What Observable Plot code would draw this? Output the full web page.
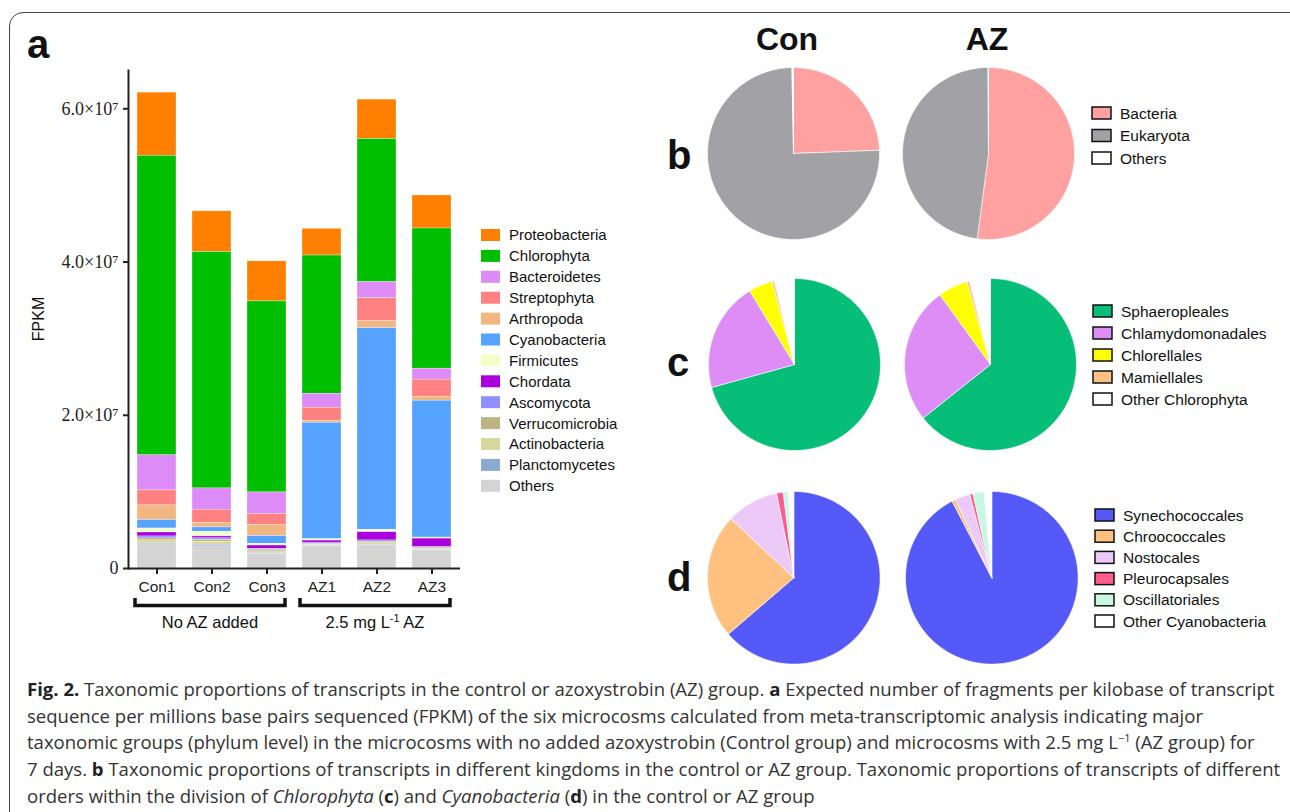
<!DOCTYPE html>
<html><head><meta charset="utf-8">
<script src="https://cdn.jsdelivr.net/npm/d3@7"></script>
<script src="https://cdn.jsdelivr.net/npm/@observablehq/plot@0.6"></script>
<style>
body{margin:0;background:#fff;}
#page{position:relative;width:1290px;height:812px;overflow:hidden;font-family:"Liberation Sans",Arial,sans-serif;color:#111;background:#fff;}
#frame{position:absolute;left:9px;top:12px;width:1320px;height:840px;border:1.5px solid #444;border-radius:14px;box-sizing:border-box;}
.abs{position:absolute;}
#caption{position:absolute;left:27px;top:676px;font-family:"Open Sans",sans-serif;font-size:18.55px;line-height:26.7px;color:#333;white-space:nowrap;}
#caption b{font-weight:700;color:#222;}
</style></head><body><div id="page"><div id="frame"></div></div>
<script>
// ---------- DATA ----------
const samples = ["Con1","Con2","Con3","AZ1","AZ2","AZ3"];
const phyla = ["Proteobacteria","Chlorophyta","Bacteroidetes","Streptophyta","Arthropoda","Cyanobacteria","Firmicutes","Chordata","Ascomycota","Verrucomicrobia","Actinobacteria","Planctomycetes","Others"];
const phylumColors = ["#FF8000","#00BF00","#DD8BF6","#FF8181","#F2B780","#55A3FF","#F4FEC9","#A902DE","#8F8FFE","#BEB482","#D7D89E","#8BAAD2","#D4D4D4"];
// FPKM per sample (Con1, Con2, Con3, AZ1, AZ2, AZ3)
const proteobacteria  = [8.24e6, 5.32e6, 5.23e6, 3.49e6, 5.14e6, 4.31e6];
const chlorophyta     = [39.1e6, 30.85e6, 24.93e6, 18.04e6, 18.69e6, 18.3e6];
const bacteroidetes   = [4.58e6, 2.78e6, 2.83e6, 1.83e6, 2.09e6, 1.44e6];
const streptophyta    = [1.96e6, 1.7e6, 1.4e6, 1.7e6, 3.0e6, 2.22e6];
const arthropoda      = [1.9e6, 0.61e6, 1.48e6, 0.26e6, 0.92e6, 0.52e6];
const cyanobacteria   = [1.11e6, 0.56e6, 1.0e6, 15.2e6, 26.31e6, 17.87e6];
const firmicutes      = [0.52e6, 0.61e6, 0.22e6, 0.18e6, 0.31e6, 0.13e6];
const chordata        = [0.52e6, 0.26e6, 0.43e6, 0.34e6, 1.08e6, 1.12e6];
const ascomycota      = [0.26e6, 0.2e6, 0.15e6, 0.13e6, 0.17e6, 0.07e6];
const verrucomicrobia = [0.26e6, 0.26e6, 0.2e6, 0.1e6, 0.2e6, 0.16e6];
const actinobacteria  = [0.39e6, 0.39e6, 0.2e6, 0.1e6, 0.2e6, 0.13e6];
const planctomycetes  = [0.13e6, 0.2e6, 0.1e6, 0.09e6, 0.09e6, 0.07e6];
const others          = [3.14e6, 2.88e6, 1.92e6, 2.88e6, 3.0e6, 2.35e6];
const yTicks = [0, 2e7, 4e7, 6e7];
const groups = [{label: "No AZ added", members: ["Con1","Con2","Con3"]}, {label: "2.5 mg L", sup: "-1", tail: " AZ", members: ["AZ1","AZ2","AZ3"]}];

const pieTitles = ["Con", "AZ"];
const kingdoms = ["Bacteria","Eukaryota","Others"];
const kingdomColors = ["#FFA1A1","#A2A1A5","#FFFFFF"];
const kingdomCon = [24.4, 75.3, 0.3];
const kingdomAZ  = [52.1, 47.8, 0.1];

const chloroOrders = ["Sphaeropleales","Chlamydomonadales","Chlorellales","Mamiellales","Other Chlorophyta"];
const chloroColors = ["#06BE78","#DE8CF6","#FFFF00","#FFC183","#FFFFFF"];
const chloroCon = [70.7, 20.6, 4.5, 0.45, 3.75];
const chloroAZ  = [64.3, 25.7, 5.6, 0.5, 3.9];

const cyanoOrders = ["Synechococcales","Chroococcales","Nostocales","Pleurocapsales","Oscillatoriales","Other Cyanobacteria"];
const cyanoColors = ["#5559F8","#FFC080","#EDC9F8","#FF5B8D","#C8F7E4","#FFFFFF"];
const cyanoCon = [63.7, 23.3, 9.8, 1.25, 0.85, 1.1];
const cyanoAZ  = [92.4, 0.7, 2.8, 0.6, 2.1, 1.4];

// ---------- BUILD ----------
const page = document.getElementById("page");
const phylumValues = [proteobacteria, chlorophyta, bacteroidetes, streptophyta, arthropoda, cyanobacteria, firmicutes, chordata, ascomycota, verrucomicrobia, actinobacteria, planctomycetes, others];
const rows = samples.flatMap((s, i) => phyla.map((p, j) => ({sample: s, phylum: p, value: phylumValues[j][i]})));

const bar = Plot.plot({
  width: 470, height: 640, marginLeft: 128, marginRight: 10, marginTop: 70, marginBottom: 72,
  style: {background: "transparent", color: "#222", fontFamily: "Liberation Sans, Arial, sans-serif", overflow: "visible"},
  x: {domain: samples, paddingInner: 0.3, paddingOuter: 0.15},
  y: {domain: [0, 6.5e7]},
  color: {domain: phyla, range: phylumColors},
  marks: [
    Plot.barY(rows, {x: "sample", y: "value", fill: "phylum", order: phyla.slice().reverse(), stroke: "white", strokeWidth: 0.5, strokeOpacity: 0.6}),
    Plot.ruleY([0], {stroke: "#222", strokeWidth: 2}),
    Plot.frame({anchor: "left", stroke: "#222", strokeWidth: 2}),
    Plot.axisY({ticks: yTicks, tickFormat: d => d === 0 ? "0" : (d / 1e7).toFixed(1) + "×10⁷", tickSize: 5, tickPadding: 5, strokeWidth: 2, fontSize: 18, fontFamily: "Liberation Serif, DejaVu Serif, serif", label: null}),
    Plot.axisX({tickSize: 6, tickPadding: 6, strokeWidth: 2, fontSize: 15.5, label: null})
  ]
});
bar.classList.add("abs"); bar.style.left = "0px"; bar.style.top = "0px";
page.appendChild(bar);

const svgBar = d3.select(bar);
const xs = bar.scale("x");
const bw = xs.bandwidth;
svgBar.append("text").attr("transform", "translate(44,319) rotate(-90)").attr("text-anchor", "middle")
  .attr("font-size", 16).attr("fill", "#111").text("FPKM");
groups.forEach(g => {
  const a = xs.apply(g.members[0]) - 2, b = xs.apply(g.members[g.members.length - 1]) + bw - 1;
  svgBar.append("path").attr("d", `M${a},598 V605.5 H${b} V598`).attr("fill", "none").attr("stroke", "#111").attr("stroke-width", 3.5);
  const t = svgBar.append("text").attr("x", (a + b) / 2).attr("y", 628).attr("text-anchor", "middle").attr("font-size", 16.5).attr("fill", "#111");
  t.append("tspan").text(g.label);
  if (g.sup) {
    t.append("tspan").attr("dy", -6).attr("font-size", 11).text(g.sup);
    t.append("tspan").attr("dy", 6).text(g.tail);
  }
});

function pie(names, colors, values, cx, cy, r) {
  const arcs = d3.pie().sort(null).value(d => d)(values);
  const pts = [];
  arcs.forEach((a, i) => {
    const n = Math.max(2, Math.ceil((a.endAngle - a.startAngle) / (Math.PI / 180)));
    pts.push({k: names[i], x: 0, y: 0});
    for (let j = 0; j <= n; j++) {
      const t = a.startAngle + (a.endAngle - a.startAngle) * j / n;
      pts.push({k: names[i], x: Math.sin(t), y: Math.cos(t)});
    }
    pts.push({k: names[i], x: 0, y: 0});
  });
  const p = Plot.plot({
    width: 2 * r + 2, height: 2 * r + 2, margin: 1,
    x: {domain: [-1, 1], axis: null}, y: {domain: [-1, 1], axis: null},
    color: {domain: names, range: colors},
    style: {background: "transparent", overflow: "visible"},
    marks: [Plot.line(pts, {x: "x", y: "y", z: "k", fill: "k", stroke: "white", strokeWidth: 0.6, curve: "linear"})]
  });
  p.classList.add("abs"); p.style.left = (cx - r - 1) + "px"; p.style.top = (cy - r - 1) + "px";
  page.appendChild(p);
}
pie(kingdoms, kingdomColors, kingdomCon, 793, 152.5, 86);
pie(kingdoms, kingdomColors, kingdomAZ, 988.3, 152.5, 86);
pie(chloroOrders, chloroColors, chloroCon, 794, 363.5, 86);
pie(chloroOrders, chloroColors, chloroAZ, 989.5, 363.5, 86);
pie(cyanoOrders, cyanoColors, cyanoCon, 793.5, 577.3, 86.3);
pie(cyanoOrders, cyanoColors, cyanoAZ, 991, 577, 86.3);

// overlay for texts and legends
const ov = d3.select(page).append("svg").attr("class", "abs").attr("width", 1290).attr("height", 812)
  .style("left", "0px").style("top", "0px").attr("font-family", "Liberation Sans, Arial, sans-serif");
[["a", 27, 58], ["b", 667, 169], ["c", 667, 376], ["d", 667, 591]].forEach(([t, x, y]) =>
  ov.append("text").attr("x", x).attr("y", y).attr("font-size", 40).attr("font-weight", "bold").attr("fill", "#111").text(t));
[[pieTitles[0], 787], [pieTitles[1], 987]].forEach(([t, x]) =>
  ov.append("text").attr("x", x).attr("y", 50).attr("text-anchor", "middle").attr("font-size", 32).attr("font-weight", "bold").attr("fill", "#111").text(t));

function legend(names, colors, sx, tx, y0, dy, bordered, fs) {
  names.forEach((n, i) => {
    const cy = y0 + i * dy;
    ov.append("rect").attr("x", sx).attr("y", cy - 6).attr("width", 19).attr("height", 12).attr("fill", colors[i])
      .attr("stroke", bordered ? "#111" : "none").attr("stroke-width", bordered ? 1.5 : 0);
    ov.append("text").attr("x", tx).attr("y", cy + fs * 0.36).attr("font-size", fs).attr("fill", "#111").text(n);
  });
}
legend(phyla, phylumColors, 481, 509, 235, 20.9, false, 15);
legend(kingdoms, kingdomColors, 1092, 1120, 113, 22.5, true, 15.5);
legend(chloroOrders, chloroColors, 1093, 1121, 311, 22, true, 15.5);
legend(cyanoOrders, cyanoColors, 1095, 1123, 515, 21.2, true, 15.5);

const cap = document.createElement("div");
cap.id = "caption";
cap.innerHTML = [
  "<b>Fig. 2.</b> Taxonomic proportions of transcripts in the control or azoxystrobin (AZ) group. <b>a</b> Expected number of fragments per kilobase of transcript",
  "sequence per millions base pairs sequenced (FPKM) of the six microcosms calculated from meta-transcriptomic analysis indicating major",
  "taxonomic groups (phylum level) in the microcosms with no added azoxystrobin (Control group) and microcosms with 2.5 mg L<sup style=\"font-size:11px;line-height:0\">−1</sup> (AZ group) for",
  "7 days. <b>b</b> Taxonomic proportions of transcripts in different kingdoms in the control or AZ group. Taxonomic proportions of transcripts of different",
  "orders within the division of <i>Chlorophyta</i> (<b>c</b>) and <i>Cyanobacteria</i> (<b>d</b>) in the control or AZ group"
].join("<br>");
page.appendChild(cap);
</script></body></html>
